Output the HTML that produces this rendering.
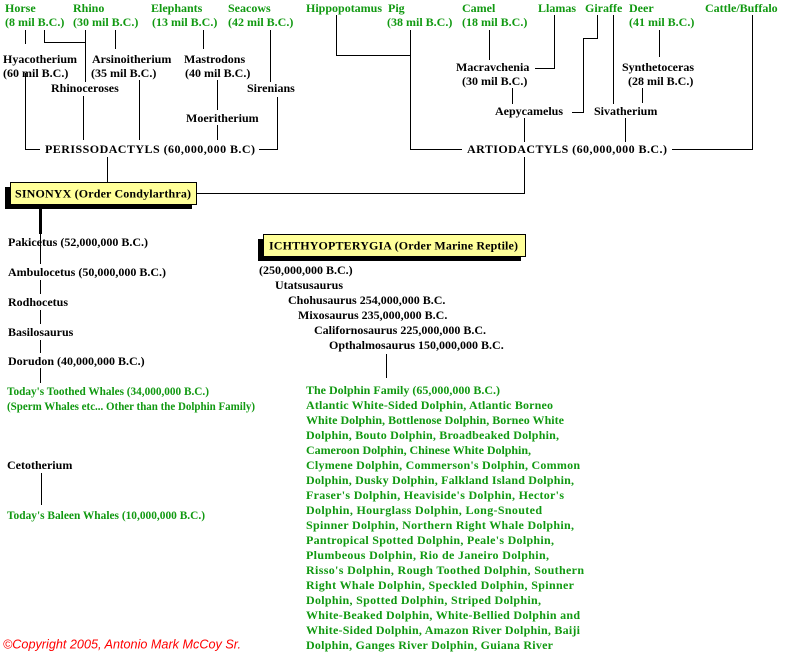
<!DOCTYPE html>
<html><head><meta charset="utf-8"><style>
html,body{margin:0;padding:0;background:#fff;width:789px;height:655px;overflow:hidden}
svg{display:block}
text{font-family:"Liberation Serif",serif;font-weight:bold;font-size:12px;dominant-baseline:central}
.g{fill:#119911}
.k{fill:#000}
line,polyline{stroke:#000;stroke-width:1;fill:none}
</style></head><body>
<svg width="789" height="655" xmlns="http://www.w3.org/2000/svg" shape-rendering="crispEdges">
<line x1="25.5" y1="30" x2="25.5" y2="44"/>
<polyline points="25.5,73 25.5,149.5 40,149.5"/>
<polyline points="44.5,30 44.5,42.5 85.5,42.5"/>
<line x1="85.5" y1="30" x2="85.5" y2="82"/>
<line x1="115.5" y1="30" x2="115.5" y2="49"/>
<line x1="83.5" y1="96" x2="83.5" y2="140"/>
<line x1="139.5" y1="80" x2="139.5" y2="140"/>
<line x1="203.5" y1="30" x2="203.5" y2="49"/>
<line x1="217.5" y1="80" x2="217.5" y2="110"/>
<line x1="217.5" y1="125" x2="217.5" y2="140"/>
<line x1="270.5" y1="30" x2="270.5" y2="82"/>
<polyline points="259,149.5 277.5,149.5 277.5,97"/>
<line x1="107.5" y1="157" x2="107.5" y2="182"/>
<polyline points="336.5,15 336.5,55.5 410.5,55.5"/>
<polyline points="410.5,30 410.5,149.5 462,149.5"/>
<line x1="489.5" y1="30" x2="489.5" y2="60"/>
<polyline points="535,68.5 554.5,68.5 554.5,15"/>
<line x1="512.5" y1="88" x2="512.5" y2="104"/>
<polyline points="597.5,15 597.5,38.5 583.5,38.5 583.5,112.5 572,112.5"/>
<line x1="613.5" y1="15" x2="613.5" y2="104"/>
<line x1="659.5" y1="30" x2="659.5" y2="57"/>
<line x1="642.5" y1="88" x2="642.5" y2="103"/>
<line x1="524.5" y1="118" x2="524.5" y2="142"/>
<line x1="625.5" y1="118" x2="625.5" y2="142"/>
<polyline points="672,149.5 752.5,149.5 752.5,15"/>
<polyline points="196,193.5 524.5,193.5 524.5,157"/>
<rect x="39" y="204" width="3" height="30" fill="#000"/>
<line x1="40.5" y1="232" x2="40.5" y2="264"/>
<line x1="40.5" y1="280" x2="40.5" y2="294"/>
<line x1="40.5" y1="310" x2="40.5" y2="324"/>
<line x1="40.5" y1="340" x2="40.5" y2="353"/>
<line x1="40.5" y1="368" x2="40.5" y2="383"/>
<line x1="41.5" y1="473" x2="41.5" y2="505"/>
<line x1="386.5" y1="354" x2="386.5" y2="378"/>
<rect x="5" y="187" width="187" height="22" fill="#000"/>
<rect x="10.5" y="182.5" width="186" height="22" fill="#ffff99" stroke="#000"/>
<text x="15" y="193.5" class="k" textLength="176" lengthAdjust="spacing">SINONYX (Order Condylarthra)</text>
<rect x="258" y="239" width="263" height="22" fill="#000"/>
<rect x="263.5" y="234.5" width="262" height="22" fill="#ffff99" stroke="#000"/>
<text x="269" y="245.5" class="k" textLength="249" lengthAdjust="spacing">ICHTHYOPTERYGIA (Order Marine Reptile)</text>
<text x="5" y="8" class="g">Horse</text><text x="5" y="22" class="g">(8 mil B.C.)</text>
<text x="73" y="8" class="g">Rhino</text><text x="73" y="22" class="g">(30 mil B.C.)</text>
<text x="151" y="8" class="g">Elephants</text><text x="152" y="22" class="g">(13 mil B.C.)</text>
<text x="228" y="8" class="g">Seacows</text><text x="228" y="22" class="g">(42 mil B.C.)</text>
<text x="306" y="8" class="g">Hippopotamus</text>
<text x="388" y="8" class="g">Pig</text><text x="387" y="22" class="g">(38 mil B.C.)</text>
<text x="462" y="8" class="g">Camel</text><text x="462" y="22" class="g">(18 mil B.C.)</text>
<text x="538" y="8" class="g">Llamas</text>
<text x="585" y="8" class="g">Giraffe</text>
<text x="629" y="8" class="g">Deer</text><text x="629" y="22" class="g">(41 mil B.C.)</text>
<text x="705" y="8" class="g">Cattle/Buffalo</text>
<text x="3" y="59" class="k">Hyacotherium</text><text x="3" y="73" class="k">(60 mil B.C.)</text>
<text x="92" y="59" class="k">Arsinoitherium</text><text x="91" y="73" class="k">(35 mil B.C.)</text>
<text x="184" y="59" class="k">Mastrodons</text><text x="185" y="73" class="k">(40 mil B.C.)</text>
<text x="51" y="88" class="k">Rhinoceroses</text>
<text x="247" y="88" class="k">Sirenians</text>
<text x="186" y="118" class="k">Moeritherium</text>
<text x="45" y="149" class="k" textLength="210" lengthAdjust="spacing">PERISSODACTYLS (60,000,000 B.C)</text>
<text x="456" y="67" class="k">Macravchenia</text><text x="462" y="81" class="k">(30 mil B.C.)</text>
<text x="622" y="67" class="k">Synthetoceras</text><text x="628" y="81" class="k">(28 mil B.C.)</text>
<text x="495" y="111" class="k">Aepycamelus</text>
<text x="594" y="111" class="k">Sivatherium</text>
<text x="467" y="149" class="k" textLength="200" lengthAdjust="spacing">ARTIODACTYLS (60,000,000 B.C.)</text>
<text x="8" y="242" class="k">Pakicetus (52,000,000 B.C.)</text>
<text x="8" y="272" class="k">Ambulocetus (50,000,000 B.C.)</text>
<text x="8" y="302" class="k">Rodhocetus</text>
<text x="8" y="332" class="k">Basilosaurus</text>
<text x="8" y="361" class="k">Dorudon (40,000,000 B.C.)</text>
<text x="7" y="391" class="g" textLength="202" lengthAdjust="spacingAndGlyphs">Today's Toothed Whales (34,000,000 B.C.)</text>
<text x="7" y="406" class="g" textLength="248" lengthAdjust="spacingAndGlyphs">(Sperm Whales etc... Other than the Dolphin Family)</text>
<text x="7" y="465" class="k">Cetotherium</text>
<text x="7" y="515" class="g" textLength="198" lengthAdjust="spacingAndGlyphs">Today's Baleen Whales (10,000,000 B.C.)</text>
<text x="259" y="270" class="k">(250,000,000 B.C.)</text>
<text x="275" y="285" class="k">Utatsusaurus</text>
<text x="288" y="300" class="k">Chohusaurus 254,000,000 B.C.</text>
<text x="298" y="315" class="k">Mixosaurus 235,000,000 B.C.</text>
<text x="314" y="330" class="k">Californosaurus 225,000,000 B.C.</text>
<text x="329" y="345" class="k">Opthalmosaurus 150,000,000 B.C.</text>
<text x="306" y="390" class="g">The Dolphin Family (65,000,000 B.C.)</text>
<text x="306" y="405" class="g" textLength="247" lengthAdjust="spacing">Atlantic White-Sided Dolphin, Atlantic Borneo</text>
<text x="306" y="420" class="g" textLength="258" lengthAdjust="spacing">White Dolphin, Bottlenose Dolphin, Borneo White</text>
<text x="306" y="435" class="g" textLength="253" lengthAdjust="spacing">Dolphin, Bouto Dolphin, Broadbeaked Dolphin,</text>
<text x="306" y="450" class="g" textLength="225" lengthAdjust="spacing">Cameroon Dolphin, Chinese White Dolphin,</text>
<text x="306" y="465" class="g" textLength="274" lengthAdjust="spacing">Clymene Dolphin, Commerson's Dolphin, Common</text>
<text x="306" y="480" class="g" textLength="268" lengthAdjust="spacing">Dolphin, Dusky Dolphin, Falkland Island Dolphin,</text>
<text x="306" y="495" class="g" textLength="258" lengthAdjust="spacing">Fraser's Dolphin, Heaviside's Dolphin, Hector's</text>
<text x="306" y="510" class="g" textLength="236" lengthAdjust="spacing">Dolphin, Hourglass Dolphin, Long-Snouted</text>
<text x="306" y="525" class="g" textLength="268" lengthAdjust="spacing">Spinner Dolphin, Northern Right Whale Dolphin,</text>
<text x="306" y="540" class="g" textLength="248" lengthAdjust="spacing">Pantropical Spotted Dolphin, Peale's Dolphin,</text>
<text x="306" y="555" class="g" textLength="243" lengthAdjust="spacing">Plumbeous Dolphin, Rio de Janeiro Dolphin,</text>
<text x="306" y="570" class="g" textLength="278" lengthAdjust="spacing">Risso's Dolphin, Rough Toothed Dolphin, Southern</text>
<text x="306" y="585" class="g" textLength="268" lengthAdjust="spacing">Right Whale Dolphin, Speckled Dolphin, Spinner</text>
<text x="306" y="600" class="g" textLength="235" lengthAdjust="spacing">Dolphin, Spotted Dolphin, Striped Dolphin,</text>
<text x="306" y="615" class="g" textLength="274" lengthAdjust="spacing">White-Beaked Dolphin, White-Bellied Dolphin and</text>
<text x="306" y="630" class="g" textLength="274" lengthAdjust="spacing">White-Sided Dolphin, Amazon River Dolphin, Baiji</text>
<text x="306" y="645" class="g" textLength="247" lengthAdjust="spacing">Dolphin, Ganges River Dolphin, Guiana River</text>
<text x="3" y="644" textLength="238" lengthAdjust="spacingAndGlyphs" style="font-family:'Liberation Sans',sans-serif;font-style:italic;font-weight:normal;font-size:13px;fill:#ff0000">©Copyright 2005, Antonio Mark McCoy Sr.</text>
</svg>
</body></html>
